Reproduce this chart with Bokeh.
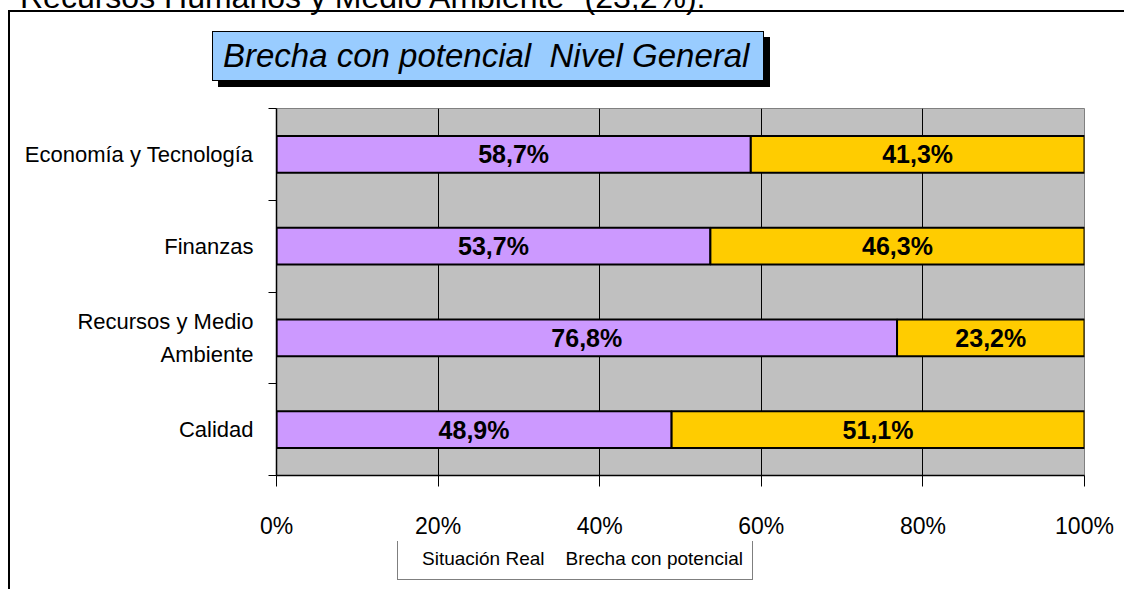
from bokeh.plotting import figure
from bokeh.layouts import column
from bokeh.models import (Range1d, FixedTicker, PrintfTickFormatter, Div,
                          ColumnDataSource, Legend, LegendItem, CDSView, IndexFilter)
from bokeh.core.properties import value
from bokeh.embed import file_html
from bokeh.resources import INLINE

# ---- data ----
categories = ["Economía y Tecnología", "Finanzas", "Recursos y Medio\nAmbiente", "Calidad"]
situacion_real = [58.7, 53.7, 76.8, 48.9]
brecha_potencial = [41.3, 46.3, 23.2, 51.1]
series_names = ["Situación Real", "Brecha con potencial"]
x_ticks = [0, 20, 40, 60, 80, 100]
title_text = "Brecha con potencial&nbsp; Nivel General"
context_text = "Recursos Humanos y Medio Ambiente\" (23,2%)."

FONT = "Liberation Sans"
PURPLE = "#CC99FF"
YELLOW = "#FFCC00"

n = len(categories)
ypos = [n - i - 0.5 for i in range(n)]
bounds = [float(i) for i in range(n + 1)]


def fmt(v):
    return f"{v:.1f}%".replace(".", ",")


src = ColumnDataSource(dict(
    y=ypos,
    real=situacion_real,
    total=[r + b for r, b in zip(situacion_real, brecha_potencial)],
    real_mid=[r / 2 for r in situacion_real],
    brecha_mid=[r + b / 2 for r, b in zip(situacion_real, brecha_potencial)],
    real_lbl=[fmt(v) for v in situacion_real],
    brecha_lbl=[fmt(v) for v in brecha_potencial],
))

bar_styles = [dict(fill_color=PURPLE, line_color="black", line_width=2),
              dict(fill_color=YELLOW, line_color="black", line_width=2)]

p = figure(width=1114, height=442, x_range=Range1d(0, 100), y_range=Range1d(0, n),
           output_backend="svg", toolbar_location=None,
           min_border_left=266, min_border_right=40, min_border_top=9, min_border_bottom=66,
           background_fill_color="#C0C0C0", border_fill_color="white")
p.outline_line_color = "#808080"

# grid
p.xgrid.ticker = FixedTicker(ticks=x_ticks)
p.xgrid.grid_line_color = "black"
p.xgrid.grid_line_width = 1
p.ygrid.visible = False

# bars
r1 = p.hbar(y="y", left=0, right="real", height=0.4, source=src, **bar_styles[0])
r2 = p.hbar(y="y", left="real", right="total", height=0.4, source=src, **bar_styles[1])

# value labels
for xcol, tcol in (("real_mid", "real_lbl"), ("brecha_mid", "brecha_lbl")):
    p.text(x=xcol, y="y", text=tcol, source=src, text_align="center",
           text_baseline="middle", text_font=value(FONT), text_font_style="bold",
           text_font_size="25px", text_color="black")

# x axis
p.xaxis.ticker = FixedTicker(ticks=x_ticks)
p.xaxis.formatter = PrintfTickFormatter(format="%d%%")
p.xaxis.major_tick_out = 11
p.xaxis.major_tick_in = 0
p.xaxis.minor_tick_out = 0
p.xaxis.minor_tick_in = 0
p.xaxis.axis_line_color = "black"
p.xaxis.axis_line_width = 1.5
p.xaxis.major_tick_line_color = "black"
p.xaxis.major_label_standoff = 26
p.xaxis.major_label_text_font = FONT
p.xaxis.major_label_text_font_size = "23px"
p.xaxis.major_label_text_color = "black"

# y axis
p.yaxis.ticker = FixedTicker(ticks=ypos, minor_ticks=bounds)
p.yaxis.major_label_overrides = {float(yv): c for yv, c in zip(ypos, categories)}
p.yaxis.major_tick_out = 0
p.yaxis.major_tick_in = 0
p.yaxis.minor_tick_out = 8
p.yaxis.minor_tick_in = 0
p.yaxis.minor_tick_line_color = "black"
p.yaxis.axis_line_color = "black"
p.yaxis.axis_line_width = 1.5
p.yaxis.major_label_standoff = 15
p.yaxis.major_label_text_font = FONT
p.yaxis.major_label_text_font_size = "22px"
p.yaxis.major_label_text_line_height = 1.35
p.yaxis.major_label_text_color = "black"

# legend strip (own small canvas so the legend sits below the axis);
# its bars share the data but the view shows no rows, only the legend swatches
lg = figure(width=1114, height=48, x_range=Range1d(10000, 10100), y_range=Range1d(10000, 10001),
            output_backend="svg", toolbar_location=None,
            x_axis_location=None, y_axis_location=None, min_border=0,
            background_fill_color="white", border_fill_color="white")
lg.outline_line_color = None
lg.center = []
lg.below = []
lg.left = []
hidden = CDSView(filter=IndexFilter(indices=[]))
l1 = lg.hbar(y="y", left=0, right="real", height=0.4, source=src, view=hidden, **bar_styles[0])
l2 = lg.hbar(y="y", left="real", right="total", height=0.4, source=src,
             view=CDSView(filter=IndexFilter(indices=[])), **bar_styles[1])
legend = Legend(items=[LegendItem(label=series_names[0], renderers=[l1]),
                       LegendItem(label=series_names[1], renderers=[l2])],
                orientation="horizontal", location=(121, 9))
legend.border_line_color = "black"
legend.border_line_width = 1
legend.background_fill_color = "white"
legend.background_fill_alpha = 1
legend.padding = 9
legend.spacing = 6
legend.margin = 0
legend.label_standoff = 3
legend.glyph_width = 12
legend.glyph_height = 12
legend.label_text_font = FONT
legend.label_text_font_size = "19px"
legend.label_text_color = "black"
lg.add_layout(legend, "center")

# title box with shadow
title_div = Div(
    text=(f'<div style="position:relative; left:202px; top:19px; box-sizing:border-box; '
          f'width:552px; height:50px; padding-left:10px; background:#99CCFF; '
          f'border:1px solid black; box-shadow:6px 6px 0 black; '
          f'font-family:\'{FONT}\'; font-style:italic; font-size:33px; line-height:48px; '
          f'color:black; white-space:nowrap;">{title_text}</div>'),
    width=1114, height=87, margin=0)

inner = column(title_div, p, lg, spacing=0)
inner.styles = {"border-left": "2px solid black", "border-top": "2px solid black"}
inner.margin = (0, 0, 0, 8)

# preceding document line, cut by the top of the page
context_div = Div(
    text=(f'<div style="position:relative; left:20px; top:-18px; font-family:\'{FONT}\'; '
          f'font-size:32px; line-height:30px; color:black; white-space:nowrap;">'
          f'{context_text}</div>'),
    width=1124, height=10, margin=0)

page = column(context_div, inner, spacing=0)

open("out.html", "w").write(file_html(page, INLINE))
